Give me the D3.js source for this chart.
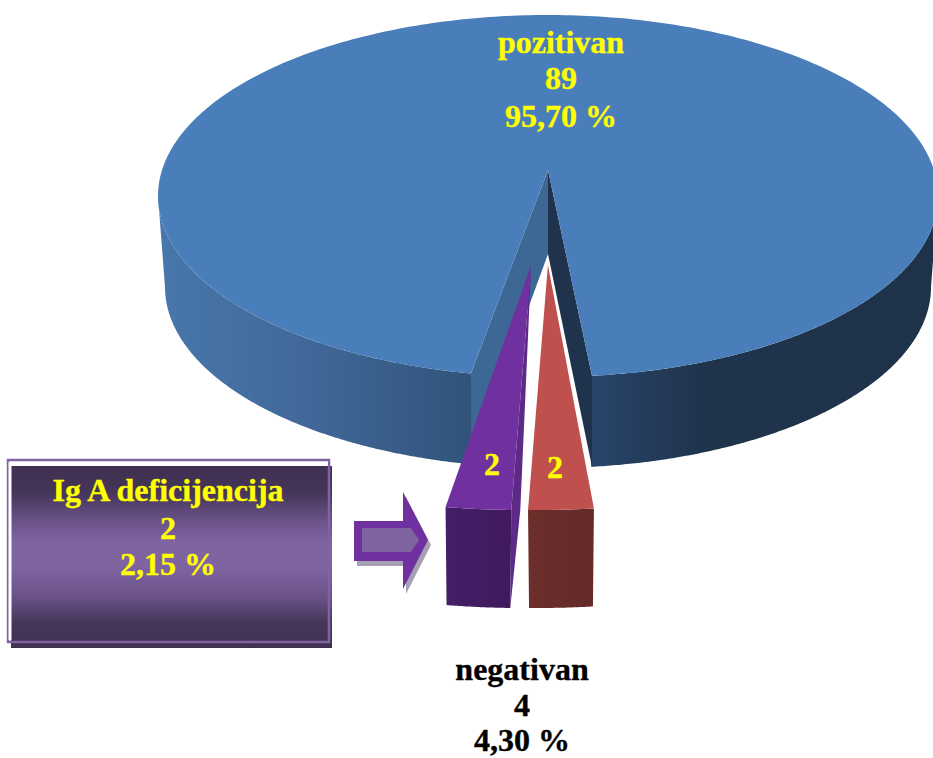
<!DOCTYPE html>
<html><head><meta charset="utf-8">
<script src="https://cdn.jsdelivr.net/npm/d3@7"></script>
<style>html,body{margin:0;padding:0;background:#fff;overflow:hidden}svg{display:block}
text{font-family:"Liberation Serif","Times New Roman",serif;font-weight:bold;text-anchor:middle}</style>
</head><body><svg id="c" width="933" height="758"></svg>
<script>
const categories = ["pozitivan", "negativan", "Ig A deficijencija"];
const values = [89, 2, 2];
const percentLabels = ["95,70 %", "", "2,15 %"];
const groupLabel = "negativan";
const groupValue = 4;
const groupPercent = "4,30 %";

const svg = d3.select("#c");
const deg = Math.PI / 180;
const W = { cx: 548, apexY: 170, topCy: 196, rx: 390, ry: 181, botCy: 287, botRx: 383, botRy: 181, innerDepth: 84 };
const frontAngle = 180 * deg;

const pie = d3.pie().sort(null).value(d => d)
  .startAngle(191.4 * deg).endAngle(548.9 * deg);
const arcs = pie(values);
const main = arcs[0];

const lineGen = d3.line().x(d => d[0]).y(d => d[1]);
const poly = pts => lineGen(pts) + "Z";
const samples = (a0, a1, n = 200) => d3.range(n + 1).map(i => a0 + (a1 - a0) * i / n);
const topRim = a => [W.cx + W.rx * Math.sin(a), W.topCy - W.ry * Math.cos(a)];
const botRim = a => [W.cx + W.botRx * Math.sin(a), W.botCy - W.botRy * Math.cos(a)];

const defs = svg.append("defs");
function grad(id, stops, attrs) {
  const g = defs.append("linearGradient").attr("id", id);
  Object.entries(attrs).forEach(([k, v]) => g.attr(k, v));
  stops.forEach(s => g.append("stop").attr("offset", s[0]).attr("stop-color", s[1]));
}
const userH = (x1, x2) => ({ gradientUnits: "userSpaceOnUse", x1, x2, y1: 0, y2: 0 });
grad("wl", [[0, "#4877ab"], [0.45, "#41699a"], [1, "#31537a"]], userH(160, 471));
grad("wr", [[0, "#29456a"], [0.33, "#1f334c"], [1, "#1e3249"]], userH(592, 930));
grad("pf", [[0, "#451f66"], [1, "#40195e"]], userH(446, 512));
grad("rf", [[0, "#6c2e2b"], [1, "#642a28"]], userH(528, 595));
grad("box", [[0, "#403152"], [0.14, "#443457"], [0.3, "#6a5289"], [0.42, "#8064a2"], [0.55, "#8064a2"], [0.72, "#6a5289"], [0.86, "#463659"], [1, "#403152"]],
  { x1: 0, x2: 0, y1: 0, y2: 1 });

// main body: outer walls
const wall = (a0, a1) => poly(samples(a0, a1).map(topRim).concat(samples(a1, a0).map(botRim)));
const aL = main.startAngle, aR = main.endAngle;
svg.append("path").attr("d", wall(aL, 270 * deg)).attr("fill", "url(#wl)");
svg.append("path").attr("d", wall(450 * deg, aR)).attr("fill", "url(#wr)");

// main body: inner cut walls
const apex = [W.cx, W.apexY], apexB = [W.cx, W.apexY + W.innerDepth];
svg.append("path").attr("d", poly([apex, topRim(aL), botRim(aL).map((v, i) => i ? v : topRim(aL)[0]), apexB])).attr("fill", "#3d6896");
svg.append("path").attr("d", poly([apex, topRim(aR), botRim(aR).map((v, i) => i ? v : topRim(aR)[0]), apexB])).attr("fill", "#1f334c");

// main body: top face
svg.append("path").attr("d", poly([apex].concat(samples(aL, aR, 400).map(topRim)))).attr("fill", "#4a7ebb");

// exploded slices
const E = { k: 492, lean: -9.5, baseDx: -5.8, explode: 125, dy: 95, ry: 245, depth: 98, inset: 0.97 };
const sliceStyle = [null,
  { top: "#c0504d", side: null, front: "url(#rf)", edge: "#fff" },
  { top: "#7030a0", side: "#5d2a87", front: "url(#pf)", edge: null }];

[2, 1].forEach(i => {
  const s = arcs[i], st = sliceStyle[i];
  const mid = (s.startAngle + s.endAngle) / 2 - 2 * Math.PI - frontAngle;
  const ax = W.cx + E.baseDx - E.explode * Math.sin(mid);
  const ay = W.apexY + E.dy;
  const rim = a => {
    const o = a - 2 * Math.PI - frontAngle;
    return [ax + E.lean - E.k * Math.sin(o), ay + E.ry * Math.cos(o)];
  };
  const midX = rim(mid + frontAngle + 2 * Math.PI)[0];
  const low = a => { const p = rim(a); return [midX + (p[0] - midX) * E.inset, p[1] + E.depth]; };
  const aa = samples(s.startAngle, s.endAngle, 30);
  if (st.side) {
    const r = rim(s.startAngle);
    svg.append("path").attr("d", poly([[ax, ay], r, low(s.startAngle), [r[0] + 9, r[1]]])).attr("fill", st.side);
  }
  svg.append("path").attr("d", poly(aa.map(rim).concat(aa.slice().reverse().map(low)))).attr("fill", st.front);
  if (st.edge) {
    svg.append("path").attr("d", lineGen([rim(s.startAngle), [ax, ay], rim(s.endAngle)]))
      .attr("fill", "none").attr("stroke", st.edge).attr("stroke-width", 3.5);
  }
  svg.append("path").attr("d", poly([[ax, ay]].concat(aa.map(rim)))).attr("fill", st.top);
});

// text helper
function block(lines, x, ys, fill) {
  lines.forEach((t, i) => svg.append("text").attr("x", x).attr("y", ys[i])
    .attr("font-size", 32).attr("fill", fill).attr("stroke", fill).attr("stroke-width", 0.35).text(t));
}
block([categories[0], values[0], percentLabels[0]], 561, [53, 89, 127], "#ffff00");
block([values[2]], 492, [475], "#ffff00");
block([values[1]], 555, [478], "#ffff00");
block([groupLabel, groupValue, groupPercent], 522, [680, 716, 751], "#000");

// callout box
svg.append("rect").attr("x", 11).attr("y", 466).attr("width", 321).attr("height", 182).attr("fill", "url(#box)");
svg.append("rect").attr("x", 8).attr("y", 460).attr("width", 321).attr("height", 182)
  .attr("fill", "none").attr("stroke", "#8064a2").attr("stroke-width", 2.5);
svg.append("path").attr("d", lineGen([[10, 640], [10, 463.5], [328, 463.5]])).attr("fill", "none").attr("stroke", "#fff").attr("stroke-width", 3);
block([categories[2], values[2], percentLabels[2]], 168, [501, 539, 575], "#ffff00");

// arrow
const arrowOuter = [[354, 521], [403, 521], [403, 492], [428, 540], [403, 589], [403, 561], [354, 561]];
const arrowInner = [[362, 528], [411, 528], [419, 540], [411, 552], [362, 552]];
svg.append("path").attr("d", poly(arrowOuter)).attr("fill", "#a6a0b4").attr("transform", "translate(3,5)");
svg.append("path").attr("d", poly(arrowOuter)).attr("fill", "#7030a0");
svg.append("path").attr("d", poly(arrowInner)).attr("fill", "#8064a2");
</script></body></html>
